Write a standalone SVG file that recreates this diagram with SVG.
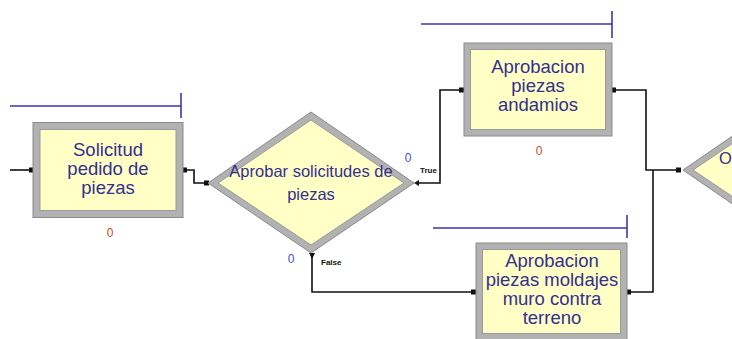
<svg xmlns="http://www.w3.org/2000/svg" width="732" height="339" viewBox="0 0 732 339">
  <style>
    .bevel { fill: #b2b2b2; stroke: #8a8a8a; stroke-width: 1; }
    .face { fill: #ffffc6; stroke: #9a9a9a; stroke-width: 1; }
    .label { font-family: "Liberation Sans", Arial, sans-serif; font-size: 18.5px; fill: #33308f; text-anchor: middle; }
    .dlabel { font-family: "Liberation Sans", Arial, sans-serif; font-size: 16.5px; fill: #33308f; text-anchor: middle; }
    .count { font-family: "Liberation Sans", Arial, sans-serif; font-size: 12px; text-anchor: middle; }
    .qcount { fill: #c0502a; }
    .dcount { fill: #4a4ac8; }
    .tag { font-family: "Liberation Sans", Arial, sans-serif; font-size: 8px; font-weight: bold; fill: #111; }
    .queue { fill: none; stroke: #3a3aa6; stroke-width: 1.6; }
    .link { fill: none; stroke: #111; stroke-width: 1.6; }
    .pt { fill: #111; }
  </style>

  <!-- connectors -->
  <g id="connectors">
    <path class="link" d="M10,170 H30"/>
    <rect class="pt" x="29" y="167.5" width="5" height="5"/>

    <rect class="pt" x="183" y="167.5" width="4" height="5"/>
    <path class="link" d="M186,170 H194 V183 H207"/>
    <rect class="pt" x="204" y="180.5" width="5" height="5"/>

    <polygon class="pt" points="414,183 419,180 419,186"/>
    <path class="link" d="M418,183 H440 V90 H462"/>
    <rect class="pt" x="459" y="87.5" width="5" height="5"/>

    <polygon class="pt" points="309,253 315,253 312,259"/>
    <path class="link" d="M312,257 V292 H474"/>
    <rect class="pt" x="471" y="289.5" width="5" height="5"/>

    <rect class="pt" x="612" y="87.5" width="4" height="5"/>
    <path class="link" d="M615,90 H646 V170 H680"/>
    <rect class="pt" x="676" y="167.5" width="5" height="5"/>

    <rect class="pt" x="627" y="289.5" width="4" height="5"/>
    <path class="link" d="M630,292 H653 V170"/>
  </g>

  <!-- Solicitud pedido de piezas -->
  <g id="solicitud">
    <path class="queue" d="M10,106 H181 M181,93 V118"/>
    <rect class="bevel" x="33" y="122.5" width="150" height="95"/>
    <rect class="face" x="40" y="129.5" width="136" height="81"/>
    <text class="label" x="108" y="156">Solicitud</text>
    <text class="label" x="108" y="175">pedido de</text>
    <text class="label" x="108" y="194">piezas</text>
    <text class="count qcount" x="110" y="237">0</text>
  </g>

  <!-- Aprobar solicitudes de piezas -->
  <g id="aprobar">
    <polygon class="bevel" points="208,183 311,112 414,183 311,253"/>
    <polygon class="face" points="218,183 311,120 404,183 311,245"/>
    <text class="dlabel" x="311" y="177">Aprobar solicitudes de</text>
    <text class="dlabel" x="311" y="200">piezas</text>
    <text class="count dcount" x="408" y="162">0</text>
    <text class="tag" x="420" y="173">True</text>
    <text class="count dcount" x="291" y="263">0</text>
    <text class="tag" x="321" y="265">False</text>
  </g>

  <!-- Aprobacion piezas andamios -->
  <g id="andamios">
    <path class="queue" d="M421,24 H612 M612,11 V38"/>
    <rect class="bevel" x="464" y="43" width="148" height="93"/>
    <rect class="face" x="470.5" y="49.5" width="135" height="80"/>
    <text class="label" x="538" y="73">Aprobacion</text>
    <text class="label" x="538" y="92">piezas</text>
    <text class="label" x="538" y="111">andamios</text>
    <text class="count qcount" x="539" y="155">0</text>
  </g>

  <!-- Aprobacion piezas moldajes muro contra terreno -->
  <g id="moldajes">
    <path class="queue" d="M433,228 H627 M627,215 V238"/>
    <rect class="bevel" x="476" y="243" width="151" height="97"/>
    <rect class="face" x="482.5" y="249.5" width="138" height="84"/>
    <text class="label" x="552" y="267">Aprobacion</text>
    <text class="label" x="552" y="286">piezas moldajes</text>
    <text class="label" x="552" y="305">muro contra</text>
    <text class="label" x="552" y="324">terreno</text>
  </g>

  <!-- decision at right edge -->
  <g id="decision-right">
    <polygon class="bevel" points="683,170 785,100 887,170 785,240"/>
    <polygon class="face" points="693,170 785,108 877,170 785,232"/>
    <text class="dlabel" x="719" y="164" style="text-anchor:start">O</text>
  </g>
</svg>
